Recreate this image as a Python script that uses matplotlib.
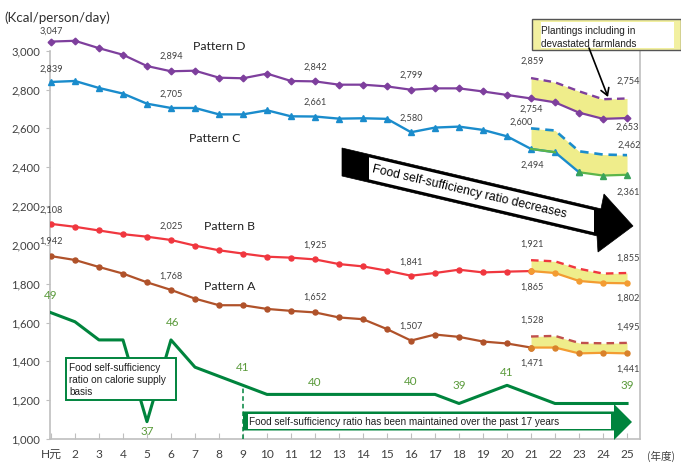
import math
import matplotlib
matplotlib.use("Agg")
import matplotlib.pyplot as plt
from matplotlib.patches import Polygon, Rectangle, FancyArrowPatch

# ---------------------------------------------------------------- data
years = list(range(1, 26))
year_labels = ["H元"] + [str(y) for y in range(2, 26)]
band_years = [21, 22, 23, 24, 25]

pattern_d = [3047, 3051, 3013, 2979, 2921, 2894, 2897, 2861, 2858, 2882, 2844, 2842, 2825,
             2825, 2816, 2799, 2806, 2806, 2790, 2772, 2754, 2734, 2681, 2649, 2653]
pattern_d_upper = [2859, 2837, 2791, 2750, 2754]

pattern_c = [2839, 2844, 2808, 2779, 2727, 2705, 2705, 2672, 2672, 2693, 2662, 2661, 2650,
             2652, 2649, 2580, 2604, 2609, 2592, 2559, 2494, 2477, 2374, 2357, 2361]
pattern_c_upper = [2600, 2589, 2482, 2465, 2462]

pattern_b = [2108, 2093, 2074, 2055, 2042, 2025, 1996, 1972, 1955, 1939, 1934, 1925, 1901,
             1889, 1867, 1841, 1855, 1872, 1858, 1862, 1865]
pattern_b_lower = [1865, 1855, 1814, 1804, 1802]
pattern_b_upper = [1921, 1915, 1877, 1852, 1855]

pattern_a = [1942, 1922, 1886, 1852, 1807, 1768, 1723, 1689, 1689, 1670, 1660, 1652, 1626,
             1617, 1566, 1507, 1538, 1526, 1502, 1492, 1471]
pattern_a_lower = [1471, 1471, 1441, 1444, 1441]
pattern_a_upper = [1528, 1531, 1495, 1493, 1495]

# calorie-based food self-sufficiency ratio (%)
self_sufficiency = [49, 48, 46, 46, 37, 46, 43, 42, 41, 40, 40, 40, 40, 40, 40, 40, 40, 39,
                    40, 41, 40, 39, 39, 39, 39]

yticks = list(range(1000, 3001, 200))

# ---------------------------------------------------------------- style
W, H = 681, 465
SANS = ["Lato", "Noto Sans CJK JP", "DejaVu Sans"]
NARROW = ["Liberation Sans", "DejaVu Sans"]
plt.rcParams["font.family"] = SANS

PURPLE = "#7e3f9d"
BLUE = "#1a8ccc"
RED = "#f0373f"
BROWN = "#b0522a"
ORANGE = "#f39c32"
LGREEN = "#5cb54a"
DGREEN = "#00843d"
LABEL_GREEN = "#5b9b3c"
BAND = "#efed8b"
GRID_GREY = "#bfbfbf"
TXT = "#404040"

fig = plt.figure(figsize=(W / 100, H / 100), dpi=100)


def fx(x):
    return x / W


def fy(y):
    return 1 - y / H


def pts(xy):
    return [(fx(x), fy(y)) for x, y in xy]


ax = fig.add_axes([fx(50), fy(439), 590 / W, (439 - 50.7) / H])
ax.set_xlim(0.96, 25.54)
ax.set_ylim(1000, 3000)

ax.spines["top"].set_visible(False)
for side in ("left", "bottom", "right"):
    ax.spines[side].set_color(GRID_GREY)
    ax.spines[side].set_linewidth(1.2)

ax.set_xticks(years)
ax.set_xticklabels(year_labels)
ax.set_yticks(yticks)
ax.set_yticklabels([f"{v:,}" for v in yticks])
ax.tick_params(axis="x", direction="in", length=4, color=GRID_GREY, labelsize=8.6,
               labelcolor=TXT, pad=7)
ax.tick_params(axis="y", direction="out", length=3, color=GRID_GREY, labelsize=8.1,
               labelcolor=TXT, pad=4)

# ---------------------------------------------------------------- bands
ax.fill_between(band_years, pattern_d[20:], pattern_d_upper, color=BAND, lw=0, zorder=1)
ax.fill_between(band_years, pattern_c[20:], pattern_c_upper, color=BAND, lw=0, zorder=1)
ax.fill_between(band_years, pattern_b_lower, pattern_b_upper, color=BAND, lw=0, zorder=1)
ax.fill_between(band_years, pattern_a_lower, pattern_a_upper, color=BAND, lw=0, zorder=1)

dash = (0, (3.2, 2.2))
ax.plot(band_years, pattern_d_upper, color=PURPLE, lw=1.7, ls=dash, zorder=3)
ax.plot(band_years, pattern_c_upper, color=BLUE, lw=1.9, ls=dash, zorder=3)
ax.plot(band_years, pattern_b_upper, color=RED, lw=1.7, ls=dash, zorder=3)
ax.plot(band_years, pattern_a_upper, color="#c0504d", lw=1.7, ls=dash, zorder=3)

# ---------------------------------------------------------------- solid lines
ax.plot(years, pattern_d, color=PURPLE, lw=1.6, marker="D", ms=3.4, zorder=4, clip_on=False)
ax.plot(years[:23], pattern_c[:23], color=BLUE, lw=1.7, marker="^", ms=4.6, zorder=4,
        clip_on=False)
ax.plot(band_years[:2], pattern_c[20:22], color=LGREEN, lw=1.6, zorder=5)
ax.plot(band_years[2:], pattern_c[22:], color=LGREEN, lw=1.6, marker="^", ms=4.6,
        mfc="#3aa35a", mec="#3aa35a", zorder=5)
ax.plot(years[:21], pattern_b, color=RED, lw=1.6, marker="o", ms=3.6, zorder=4)
ax.plot(band_years, pattern_b_lower, color=ORANGE, lw=1.6, marker="o", ms=3.6, zorder=4)
ax.plot(years[:21], pattern_a, color=BROWN, lw=1.6, marker="o", ms=3.6, zorder=4)
ax.plot(band_years, pattern_a_lower, color=ORANGE, lw=1.6, marker="o", ms=3.6,
        mfc="#d9822b", mec="#d9822b", zorder=4)

# ---------------------------------------------------------------- value labels
PX = 0.72  # points per pixel at 100 dpi
series = {
    "d": dict(zip(years, pattern_d)),
    "du": dict(zip(band_years, pattern_d_upper)),
    "c": dict(zip(years, pattern_c)),
    "cu": dict(zip(band_years, pattern_c_upper)),
    "b": {**dict(zip(years, pattern_b)), **dict(zip(band_years, pattern_b_lower))},
    "bu": dict(zip(band_years, pattern_b_upper)),
    "a": {**dict(zip(years, pattern_a)), **dict(zip(band_years, pattern_a_lower))},
    "au": dict(zip(band_years, pattern_a_upper)),
}
label_specs = [
    ("d", 1, 0, 10), ("d", 6, 0, 15), ("d", 12, 0, 14), ("d", 16, 0, 15),
    ("du", 21, 1, 17), ("du", 25, 1, 17), ("d", 21, 0, -11), ("d", 25, 0, -9),
    ("c", 1, 0, 13), ("c", 6, 0, 14), ("c", 12, 0, 14), ("c", 16, 0, 14),
    ("cu", 21, -10, 6), ("cu", 25, 2, 10), ("c", 21, 1, -16), ("c", 25, 1, -17),
    ("b", 1, 0, 14), ("b", 6, 0, 14), ("b", 12, 0, 14), ("b", 16, 0, 14),
    ("bu", 21, 1, 16), ("bu", 25, 1, 15), ("b", 21, 1, -16), ("b", 25, 1, -15),
    ("a", 1, 0, 15), ("a", 6, 0, 14), ("a", 12, 0, 15), ("a", 16, 0, 14),
    ("au", 21, 1, 16), ("au", 25, 1, 16), ("a", 21, 1, -16), ("a", 25, 1, -16),
]
for key, yr, dx, dy in label_specs:
    v = series[key][yr]
    ax.annotate(f"{v:,}", (yr, v), xytext=(dx * PX, dy * PX), textcoords="offset points",
                ha="center", va="center", fontsize=6.6, color=TXT, zorder=6,
                annotation_clip=False)

# ---------------------------------------------------------------- self-sufficiency line
ax2 = ax.twinx()
ax2.set_ylim(35.09, 77.85)
ax2.set_yticks([])
for side in ax2.spines:
    ax2.spines[side].set_visible(False)
ax2.plot(years, self_sufficiency, color=DGREEN, lw=2.2, zorder=4)
ax2.plot([9, 9], [35.09, self_sufficiency[8]], color=DGREEN, lw=1.1, ls=(0, (3, 2)))

ratio_labels = [(1, 0, 17.5), (5, 0, -10), (6, 1.5, 17), (9, 0, 18), (12, 0, 12),
                (16, 0, 12.5), (18, 0, 17.5), (20, 0, 12.5), (25, 0, 17.5)]
for yr, dx, dy in ratio_labels:
    v = self_sufficiency[yr - 1]
    ax2.annotate(f"{v}", (yr, v), xytext=(dx * PX, dy * PX), textcoords="offset points",
                 ha="center", va="center", fontsize=8.4, color=LABEL_GREEN)

# ---------------------------------------------------------------- texts
fig.text(fx(4), fy(18), "(Kcal/person/day)", fontsize=9.6, color="#303030", va="center")
fig.text(fx(647), fy(456), "(年度)", fontsize=7.6, color=TXT, va="center", ha="left",
         family=["Noto Sans CJK JP"])
for name, cx, cy in [("Pattern D", 219, 46), ("Pattern C", 215, 139),
                     ("Pattern B", 229.5, 226), ("Pattern A", 230, 286)]:
    fig.text(fx(cx), fy(cy), name, fontsize=8.8, color="#202020", ha="center", va="center")

# big "decreases" arrow
slope = 0.235
arrow = [(342, 148), (601, 148 + 259 * slope), (604, 194), (633, 226), (598, 252),
         (597, 176 + 255 * slope), (342, 176)]
fig.add_artist(Polygon(pts(arrow), closed=True, transform=fig.transFigure,
                       facecolor="black", edgecolor="black", lw=0.5))
x0, x1 = 369, 594
inner = [(x0, 148 + (x0 - 342) * slope + 3), (x1, 148 + (x1 - 342) * slope + 3),
         (x1, 176 + (x1 - 342) * slope - 3), (x0, 176 + (x0 - 342) * slope - 3)]
fig.add_artist(Polygon(pts(inner), closed=True, transform=fig.transFigure,
                       facecolor="white", edgecolor="none"))
ang = -math.degrees(math.atan(slope))
fig.text(fx(372), fy(162 + 30 * slope), "Food self-sufficiency ratio decreases",
         rotation=ang, rotation_mode="anchor", ha="left", va="center",
         fontsize=8.8, family=NARROW, color="black")

# callout for the band
fig.add_artist(Rectangle((fx(532), fy(50)), 149 / W, 31 / H, transform=fig.transFigure,
                         facecolor="#f2f0a0", edgecolor="#555555", lw=1))
fig.add_artist(Rectangle((fx(541), fy(48)), 133 / W, 26 / H, transform=fig.transFigure,
                         facecolor="white", edgecolor="none"))
fig.text(fx(541), fy(31.5), "Plantings including in", fontsize=7.2, family=NARROW,
         va="center", color="#202020")
fig.text(fx(541), fy(44), "devastated farmlands", fontsize=7.2, family=NARROW,
         va="center", color="#202020")
fig.add_artist(FancyArrowPatch((fx(589), fy(48)), (fx(608), fy(97)),
                               transform=fig.transFigure,
                               arrowstyle="->,head_length=5,head_width=3",
                               color="black", lw=1.2, shrinkA=0, shrinkB=0))

# green legend box
fig.add_artist(Rectangle((fx(66), fy(400)), 110 / W, 42 / H, transform=fig.transFigure,
                         facecolor="white", edgecolor=DGREEN, lw=1.4))
fig.text(fx(69), fy(380), "Food self-sufficiency\nratio on calorie supply\nbasis",
         fontsize=7.2, family=NARROW, va="center", ha="left", color="#202020",
         linespacing=1.3)

# green "maintained" arrow
garrow = [(243, 411.5), (614, 411.5), (614, 404), (632, 422), (614, 440), (614, 430.5),
          (243, 430.5)]
fig.add_artist(Polygon(pts(garrow), closed=True, transform=fig.transFigure,
                       facecolor=DGREEN, edgecolor="none"))
fig.add_artist(Rectangle((fx(247.5), fy(428.5)), (611 - 247.5) / W, 15 / H,
                         transform=fig.transFigure, facecolor="white", edgecolor="none"))
fig.text(fx(249), fy(421.5),
         "Food self-sufficiency ratio has been maintained over the past 17 years",
         fontsize=7.2, family=NARROW, va="center", ha="left", color="#202020")

fig.savefig("out.png", dpi=100)
